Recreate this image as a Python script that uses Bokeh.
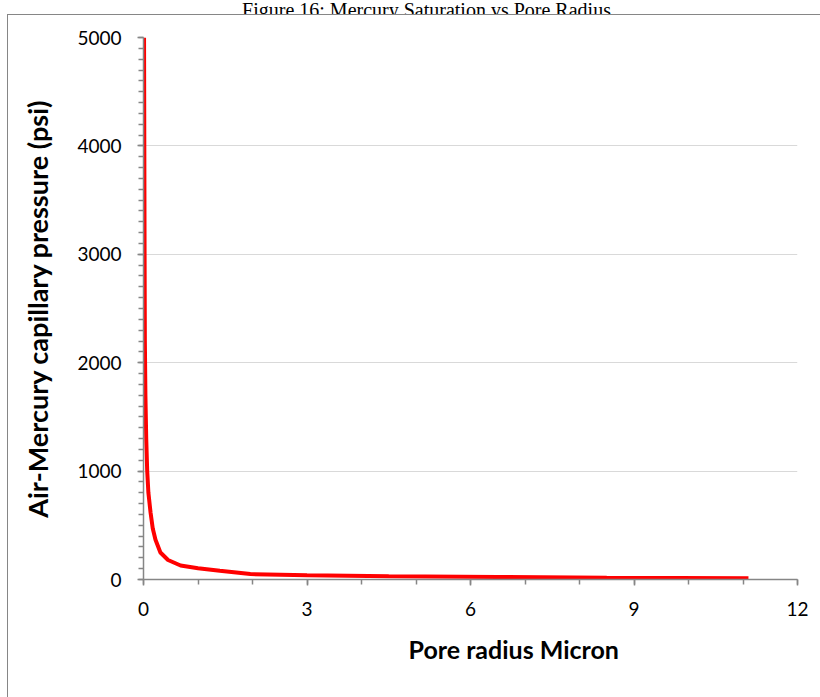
from bokeh.plotting import figure
from bokeh.layouts import column
from bokeh.models import Range1d, SingleIntervalTicker, Title, InlineStyleSheet
from bokeh.core.properties import value
from bokeh.embed import file_html
from bokeh.resources import INLINE

# Capillary pressure curve: pore radius (micron) vs air-mercury pressure (psi)
pore_radius = [0.01, 0.015, 0.02, 0.025, 0.035, 0.05, 0.068, 0.09, 0.13, 0.17,
               0.22, 0.31, 0.45, 0.68, 1.0, 1.4, 1.96, 3.0, 4.5, 6.5, 8.5, 11.1]
pressure_psi = [5000, 4000, 3000, 2200, 1700, 1300, 1000, 800, 615, 470,
                367, 249, 180, 129, 104, 80, 50, 40, 31, 23, 17, 11]

title_text = "Figure 16: Mercury Saturation vs Pore Radius"
x_label = "Pore radius Micron"
y_label = "Air-Mercury capillary pressure (psi)"

AXIS_GREY = "#868686"
TICK_FONT = "Lato"

W = 820
STRIP_H = 14          # caption strip above the chart border
CHART_H = 697 - STRIP_H
FRAME_LEFT, FRAME_RIGHT = 143, 797

# --- caption strip: the top of the caption runs off the page edge ---
# its frame lines up with the chart frame, so the x range is in page pixels
cap = figure(width=W, height=STRIP_H, output_backend="svg", toolbar_location=None,
             x_range=Range1d(FRAME_LEFT, FRAME_RIGHT), y_range=Range1d(0, STRIP_H),
             x_axis_type=None, y_axis_type=None, min_border=0)
cap.outline_line_color = None
cap.grid.visible = False
cap.text(x=[426], y=[4.5], text=[title_text], text_align="center",
         text_baseline="alphabetic", text_font=value("Liberation Serif"),
         text_font_size="20px", text_color="#000000")

# --- main chart ---
FRAME_TOP, FRAME_BOTTOM = 37 - STRIP_H, 579 - STRIP_H

p = figure(width=W, height=CHART_H, output_backend="svg", toolbar_location=None,
           x_range=Range1d(0, 12), y_range=Range1d(0, 5000),
           min_border_left=FRAME_LEFT, min_border_right=W - FRAME_RIGHT,
           min_border_top=FRAME_TOP, min_border_bottom=CHART_H - FRAME_BOTTOM)
p.outline_line_color = None
p.background_fill_color = "white"
p.border_fill_color = "white"

p.line(pore_radius, pressure_psi, line_color="#ff0000", line_width=4)

# axes
p.xaxis.ticker = SingleIntervalTicker(interval=3, num_minor_ticks=3)
p.yaxis.ticker = SingleIntervalTicker(interval=1000, num_minor_ticks=10)
for ax in (p.xaxis, p.yaxis):
    ax.axis_line_color = AXIS_GREY
    ax.axis_line_width = 1.5
    ax.major_tick_line_color = AXIS_GREY
    ax.minor_tick_line_color = AXIS_GREY
    ax.major_tick_line_width = 1.5
    ax.minor_tick_line_width = 1.5
    ax.major_tick_in = 0
    ax.minor_tick_in = 0
    ax.major_tick_out = 6
    ax.minor_tick_out = 5
    ax.major_label_text_font = TICK_FONT
    ax.major_label_text_font_size = "19px"
    ax.major_label_text_color = "#000000"
    ax.major_label_standoff = 16

p.yaxis.axis_label = y_label
p.yaxis.axis_label_text_font = TICK_FONT
p.yaxis.axis_label_text_font_style = "bold"
p.yaxis.axis_label_text_color = "#000000"
p.yaxis.axis_label_text_font_size = "27px"
p.yaxis.axis_label_standoff = 20

# x-axis title sits right of centre, below the tick labels
p.add_layout(Title(text=x_label, align="left", offset=265, standoff=27,
                   text_font=TICK_FONT, text_font_style="bold",
                   text_font_size="25px", text_color="#000000"), "below")

p.xgrid.grid_line_color = None
p.ygrid.grid_line_color = "#d9d9d9"
p.ygrid.grid_line_width = 1

# outer chart border: only its top and left edges fall inside the page
p.stylesheets = [InlineStyleSheet(css="""
:host::after {
  content: "";
  position: absolute;
  left: 7px;
  top: 0px;
  width: 900px;
  height: 800px;
  border-left: 1.5px solid #868686;
  border-top: 1.5px solid #868686;
  pointer-events: none;
  z-index: 5;
}
""")]

layout = column(cap, p, spacing=0)
open("out.html", "w").write(file_html(layout, INLINE))
